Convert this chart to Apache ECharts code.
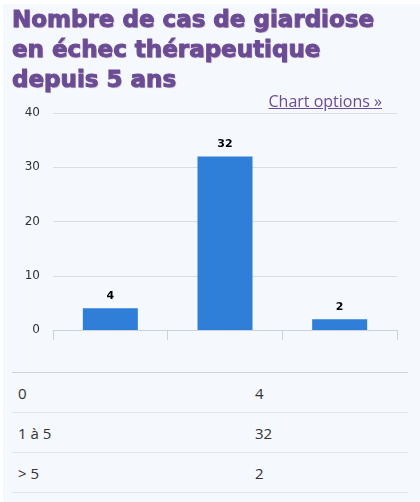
<!DOCTYPE html>
<html>
<head>
<meta charset="utf-8">
<script src="https://cdn.jsdelivr.net/npm/echarts@6/dist/echarts.min.js"></script>
<style>
  html, body { margin: 0; padding: 0; background: #ffffff; }
  .panel {
    position: absolute; left: 3px; top: 4px; width: 417px; height: 498px;
    background: #f5f8fc; overflow: hidden;
  }
  .panel__title {
    position: absolute; left: 9px; top: 0px; margin: 0;
    font-family: 'DejaVu Sans', sans-serif; font-weight: bold; font-size: 23px;
    line-height: 30px; color: #6b4c94;
    -webkit-text-stroke: 1px #6b4c94;
    text-shadow: 1px 1px 1px rgba(120, 60, 90, 0.35);
  }
  .panel__link {
    position: absolute; right: 38px; top: 86px;
    font-family: 'Open Sans', sans-serif; font-size: 16px;
    color: #6b4c94; text-decoration: underline;
  }
  .panel__chart { position: absolute; left: -3px; top: -4px; width: 420px; height: 360px; }
  .panel__table {
    position: absolute; left: 9px; top: 368px; width: 396px;
    border-collapse: collapse; font-family: 'Open Sans', sans-serif; font-size: 15px; color: #333;
  }
  .panel__table td { height: 39px; padding: 0 0 0 6px; border-bottom: 1px solid #e2e8f0; }
  .panel__table tr:first-child td { border-top: 1px solid #cfd3d8; }
  .panel__table td:last-child { padding-left: 0; width: 153px; }
</style>
</head>
<body>
<div class="panel">
  <div id="chart" class="panel__chart"></div>
  <h1 class="panel__title">Nombre de cas de giardiose<br>en échec thérapeutique<br>depuis 5 ans</h1>
  <a class="panel__link">Chart options »</a>
  <table class="panel__table" id="table"></table>
</div>
<script>
// catégories et valeurs
const categories = ['0', '1 à 5', '> 5']
const values = [4, 32, 2]
const yTicks = [0, 10, 20, 30, 40]

const chartInstance = echarts.init(document.getElementById('chart'))
chartInstance.setOption({
  animation: false,
  grid: {
    left: 53,
    right: 23,
    top: 113,
    bottom: 30
  },
  xAxis: {
    type: 'category',
    data: categories,
    axisLine: { lineStyle: { color: '#c8d2e4' } },
    axisTick: { show: true, length: 10, lineStyle: { color: '#c8d2e4' } },
    axisLabel: { show: false }
  },
  yAxis: {
    type: 'value',
    min: yTicks[0],
    max: yTicks[yTicks.length - 1],
    interval: 10,
    axisLine: { show: false },
    axisTick: { show: false },
    splitLine: { lineStyle: { color: '#dcdcdc', width: 1 } },
    axisLabel: {
      color: '#333',
      fontFamily: 'DejaVu Sans',
      fontSize: 12,
      margin: 13
    }
  },
  series: [
    {
      type: 'bar',
      data: values,
      barWidth: 55,
      itemStyle: { color: '#2f7ed8' },
      label: {
        show: true,
        position: 'top',
        distance: 7,
        color: '#000',
        fontFamily: 'DejaVu Sans',
        fontWeight: 'bold',
        fontSize: 11
      }
    }
  ]
})

// tableau des données sous le graphique
const table = document.getElementById('table')
categories.forEach((c, i) => {
  const tr = document.createElement('tr')
  tr.innerHTML = `<td>${c.replace('>', '&gt;')}</td><td>${values[i]}</td>`
  table.appendChild(tr)
})
</script>
</body>
</html>
